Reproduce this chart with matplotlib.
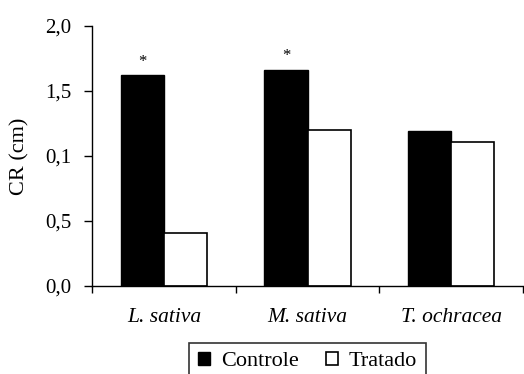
import matplotlib
matplotlib.use("Agg")
import matplotlib.pyplot as plt
from matplotlib.patches import Patch
import numpy as np

plt.rcParams['font.family'] = ['Liberation Serif', 'DejaVu Serif']

categories = ["L. sativa", "M. sativa", "T. ochracea"]
controle = [1.62, 1.66, 1.19]
tratado = [0.41, 1.20, 1.11]
significant = [True, True, False]
ytick_values = [0.0, 0.5, 1.0, 1.5, 2.0]
ytick_labels = ["0,0", "0,5", "0,1", "1,5", "2,0"]

W, H = 524, 374
fig = plt.figure(figsize=(W / 100, H / 100), dpi=100)
ax = fig.add_axes([92 / W, 88 / H, 431 / W, 260 / H])

x = np.arange(len(categories))
bw = 0.3
ax.bar(x - bw / 2, controle, bw, color='black', edgecolor='black', linewidth=1.0, label='Controle')
ax.bar(x + bw / 2, tratado, bw, color='white', edgecolor='black', linewidth=1.2, label='Tratado')

for xi, v, s in zip(x, controle, significant):
    if s:
        ax.text(xi - bw / 2, v + 0.045, "*", ha='center', va='bottom', fontsize=12)

ax.set_xlim(-0.5, 2.5)
ax.set_ylim(0, 2.0)
ax.set_yticks(ytick_values)
ax.set_yticklabels(ytick_labels, fontsize=15)
ax.set_xticks(x)
ax.set_xticklabels(categories, fontsize=15.5, style='italic')
ax.set_xticks(np.arange(-0.5, 2.6, 1.0), minor=True)
ax.tick_params(axis='x', which='major', length=0, pad=16)
ax.tick_params(axis='x', which='minor', length=5, width=1, direction='out')
ax.tick_params(axis='y', which='major', length=6, width=1, direction='out', pad=9)

for sp in ['top', 'right']:
    ax.spines[sp].set_visible(False)
for sp in ['left', 'bottom']:
    ax.spines[sp].set_linewidth(1.0)
    ax.spines[sp].set_clip_on(False)

ax.set_ylabel("CR (cm)", fontsize=16)
ax.yaxis.set_label_coords(-0.145, 0.5)

handles = [Patch(facecolor='black', edgecolor='black'),
           Patch(facecolor='white', edgecolor='black', linewidth=1.2)]
leg = fig.legend(handles, ['Controle', 'Tratado'], loc='upper center',
                 bbox_to_anchor=(307.5 / W, (H - 343) / H), ncol=2, fontsize=16,
                 frameon=True, fancybox=False, edgecolor='black',
                 handlelength=0.55, handleheight=0.55, handletextpad=0.5,
                 columnspacing=1.2, borderpad=0.4, borderaxespad=0)
leg.get_frame().set_linewidth(1.2)

fig.savefig("out.png", dpi=100)
